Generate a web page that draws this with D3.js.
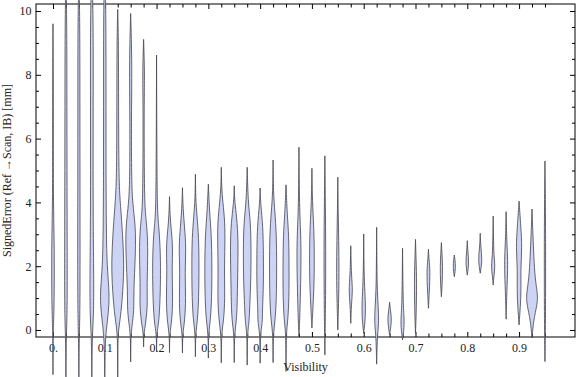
<!DOCTYPE html>
<html>
<head>
<meta charset="utf-8">
<script src="https://cdn.jsdelivr.net/npm/d3@7"></script>
<style>
  body { margin: 0; background: #fff; }
  text { font-family: "Liberation Serif", "Times New Roman", serif; }
</style>
</head>
<body>
<svg id="chart" width="576" height="377"></svg>
<script>
// violin positions (visibility bins)
const visibility = [0, 0.025, 0.05, 0.075, 0.1, 0.125, 0.15, 0.175, 0.2, 0.225,
  0.25, 0.275, 0.3, 0.325, 0.35, 0.375, 0.4, 0.425, 0.45, 0.475,
  0.5, 0.525, 0.55, 0.575, 0.6, 0.625, 0.65, 0.675, 0.7, 0.725,
  0.75, 0.775, 0.8, 0.825, 0.85, 0.875, 0.9, 0.925, 0.95];

// lowest / highest signed error in each bin (mm)
const errMin = [-1.4, -1.7, -1.7, -1.7, -1.7, -1.7, -1.0, -0.53, -0.68, -0.71,
  -0.72, -0.84, -0.88, -1.03, -1.02, -1.1, -1.04, -1.02, -1.3, -0.2,
  0.06, -0.78, 0, 0.21, -0.1, -1.07, -0.16, -0.31, -0.1, 0.68,
  1.04, 1.67, 1.72, 1.78, 1.41, 0.34, 0.16, -0.25, -0.99];
const errMax = [9.6, 11, 11, 11, 11, 10.05, 9.92, 9.11, 8.62, 4.18,
  4.46, 4.88, 4.57, 5.1, 4.52, 5.1, 4.45, 5.33, 4.55, 5.73,
  5.07, 5.46, 4.79, 2.64, 3.01, 3.22, 0.87, 2.56, 2.84, 2.53,
  2.74, 2.35, 2.8, 3.03, 3.57, 3.71, 4.04, 3.79, 5.3];

// density knots inside each bin: [error, relative density]
const density = [
  [[-0.3,0.02],[0,0.05],[0.5,0.15],[1.5,0.22],[2.5,0.22],[3.5,0.12],[4.5,0.06],[6,0.06],[8,0.05]],
  [[-0.3,0.04],[0.3,0.18],[1.5,0.22],[3,0.2],[5,0.18],[7,0.16],[9,0.15],[10.5,0.08]],
  [[-0.3,0.04],[0.3,0.16],[2,0.2],[4,0.18],[6,0.17],[8,0.17],[10,0.14]],
  [[-0.3,0.04],[0.5,0.3],[1.5,0.32],[3,0.24],[5,0.2],[7,0.22],[9,0.24],[10.5,0.15]],
  [[-0.3,0.05],[0.3,0.45],[0.8,0.72],[1.3,0.7],[2,0.38],[3,0.26],[5,0.2],[7,0.2],[9,0.2],[10.5,0.15]],
  [[-0.5,0.03],[0,0.1],[0.5,0.55],[1.5,0.95],[2.2,1.0],[3,0.8],[3.8,0.5],[4.5,0.22],[6,0.15],[8,0.14],[9.3,0.1]],
  [[-0.2,0.03],[0.1,0.2],[0.6,0.55],[1.2,0.5],[2,0.7],[2.9,0.85],[3.5,0.65],[4.1,0.25],[5,0.14],[6.5,0.12],[8,0.2],[9,0.14]],
  [[-0.1,0.03],[0.2,0.35],[0.8,0.65],[1.3,0.55],[2,0.65],[2.8,0.7],[3.4,0.45],[3.8,0.2],[5,0.1],[7,0.08],[8,0.16],[8.6,0.08]],
  [[-0.1,0.03],[0.2,0.35],[0.8,0.55],[1.5,0.65],[2.4,0.65],[3.2,0.4],[3.6,0.15],[5,0.06]],
  [[-0.1,0.03],[0.3,0.4],[1,0.55],[1.9,0.4],[2.6,0.55],[3.1,0.3],[3.6,0.08]],
  [[-0.1,0.03],[0.3,0.4],[1,0.55],[1.8,0.4],[2.6,0.6],[3.2,0.35],[3.8,0.1]],
  [[-0.1,0.03],[0.3,0.35],[1,0.55],[2,0.6],[2.9,0.55],[3.6,0.25],[4.1,0.05]],
  [[-0.1,0.03],[0.3,0.35],[1,0.55],[2,0.6],[3,0.5],[3.7,0.2]],
  [[-0.1,0.03],[0.3,0.4],[1,0.6],[1.8,0.5],[2.7,0.6],[3.4,0.6],[4,0.25],[4.5,0.05]],
  [[-0.1,0.03],[0.3,0.4],[1,0.5],[2,0.6],[3,0.65],[3.7,0.3],[4.1,0.05]],
  [[-0.1,0.03],[0.3,0.35],[0.7,0.4],[1.5,0.6],[2.5,0.65],[3.4,0.55],[4,0.15]],
  [[-0.1,0.03],[0.25,0.4],[0.55,0.35],[1.3,0.55],[2.4,0.55],[3.3,0.45],[3.9,0.1]],
  [[-0.1,0.03],[0.3,0.35],[1,0.55],[2,0.6],[3,0.55],[3.7,0.3],[4.3,0.05]],
  [[-0.1,0.03],[0.3,0.3],[1,0.5],[2,0.5],[3,0.45],[3.6,0.2]],
  [[0.3,0.12],[1.2,0.25],[2.2,0.35],[3,0.3],[3.8,0.08]],
  [[0.5,0.12],[1.5,0.38],[2.5,0.4],[3.3,0.3],[4,0.08]],
  [[0,0.05],[1,0.12],[2.5,0.15],[4,0.08]],
  [[0.8,0.12],[1.8,0.22],[2.8,0.15],[3.8,0.05]],
  [[0.8,0.1],[1.25,0.33],[1.7,0.1]],
  [[0.4,0.3],[0.9,0.28],[1.5,0.1],[2.2,0.04]],
  [[-0.2,0.1],[0.2,0.35],[0.6,0.3],[1.2,0.1],[2,0.04]],
  [[0.1,0.2],[0.35,0.33],[0.6,0.15]],
  [[0.1,0.28],[0.4,0.25],[0.9,0.08]],
  [[0.5,0.12],[1.5,0.2],[2.2,0.1]],
  [[1.2,0.15],[1.85,0.28],[2.2,0.1]],
  [[1.5,0.15],[2,0.2],[2.4,0.1]],
  [[2,0.25]],
  [[2.1,0.28],[2.5,0.08]],
  [[2.2,0.35],[2.6,0.08]],
  [[1.7,0.12],[2,0.33],[2.3,0.12],[3,0.04]],
  [[1,0.08],[1.8,0.25],[2.3,0.25],[2.9,0.08]],
  [[0.7,0.2],[1.25,0.35],[1.9,0.25],[2.6,0.5],[3.2,0.3]],
  [[0.3,0.25],[0.8,0.85],[1.1,0.95],[1.6,0.5],[2.3,0.3],[3,0.15]],
  [[0,0.08],[2,0.12],[4,0.08]]
];

// ticks
const xMajor = [0, 0.1, 0.2, 0.3, 0.4, 0.5, 0.6, 0.7, 0.8, 0.9];
const yMajor = [0, 2, 4, 6, 8, 10];
const yMinor = [0.5, 1, 1.5, 2.5, 3, 3.5, 4.5, 5, 5.5, 6.5, 7, 7.5, 8.5, 9, 9.5];

const svg = d3.select("#chart");
const plotL = 36, plotR = 575, plotT = 4, plotB = 337;

const xScale = d3.scaleLinear().domain([-0.0328, 1.008]).range([plotL, plotR]);
const yScale = d3.scaleLinear().domain([-0.22, 10.22]).range([plotB, plotT]);
const step = xScale(visibility[1]) - xScale(visibility[0]);
const wScale = d3.scaleLinear().domain([0, 1]).range([0, step * 0.47]);

const xMinor = visibility.filter(v => !xMajor.some(m => Math.abs(m - v) < 1e-9));

// frame
svg.append("rect")
    .attr("x", plotL).attr("y", plotT)
    .attr("width", plotR - plotL).attr("height", plotB - plotT)
    .attr("fill", "none").attr("stroke", "#000").attr("stroke-width", 1);

function tickAxis(axis, pos, size, values, labels, pad) {
    const g = svg.append("g")
        .attr("transform", pos)
        .call(axis.tickValues(values).tickSize(size).tickPadding(pad || 3)
            .tickFormat(labels ? labels : ""));
    g.select(".domain").remove();
    g.selectAll("line").attr("stroke", "#000");
    g.selectAll("text")
        .attr("font-family", "Liberation Serif, serif")
        .attr("font-size", 12)
        .attr("fill", "#222");
    return g;
}

const xFmt = d => d === 0 ? "0." : d3.format(".1f")(d);

// bottom
tickAxis(d3.axisBottom(xScale), `translate(0,${plotB})`, -5, xMajor, xFmt, 6);
tickAxis(d3.axisBottom(xScale), `translate(0,${plotB})`, -3.5, xMinor, null);
// top
tickAxis(d3.axisTop(xScale), `translate(0,${plotT})`, -5, xMajor, null);
tickAxis(d3.axisTop(xScale), `translate(0,${plotT})`, -3.5, xMinor, null);
// left
tickAxis(d3.axisLeft(yScale), `translate(${plotL},0)`, -5, yMajor, d3.format("d"), 4.5);
tickAxis(d3.axisLeft(yScale), `translate(${plotL},0)`, -3, yMinor, null);
// right
tickAxis(d3.axisRight(yScale), `translate(${plotR},0)`, -5, yMajor, null);
tickAxis(d3.axisRight(yScale), `translate(${plotR},0)`, -3, yMinor, null);

// violins
const violins = svg.append("g").attr("class", "violins");
visibility.forEach((v, i) => {
    const knots = [[errMin[i], 0], ...density[i], [errMax[i], 0]];
    const cx = xScale(v);
    const area = d3.area()
        .y(d => yScale(d[0]))
        .x0(d => cx - wScale(d[1]))
        .x1(d => cx + wScale(d[1]))
        .curve(d3.curveBasis);
    violins.append("path")
        .attr("d", area(knots))
        .attr("fill", "#ccd3f5")
        .attr("stroke", "#45454f")
        .attr("stroke-opacity", 0.9)
        .attr("stroke-width", 0.9);
});

// axis titles
svg.append("text")
    .attr("x", (plotL + plotR) / 2)
    .attr("y", 371)
    .attr("text-anchor", "middle")
    .attr("font-size", 12)
    .attr("fill", "#222")
    .text("Visibility");

svg.append("text")
    .attr("transform", `translate(11,${(plotT + plotB) / 2}) rotate(-90)`)
    .attr("text-anchor", "middle")
    .attr("font-size", 12)
    .attr("fill", "#222")
    .text("SignedError (Ref →Scan, IB) [mm]");
</script>
</body>
</html>
